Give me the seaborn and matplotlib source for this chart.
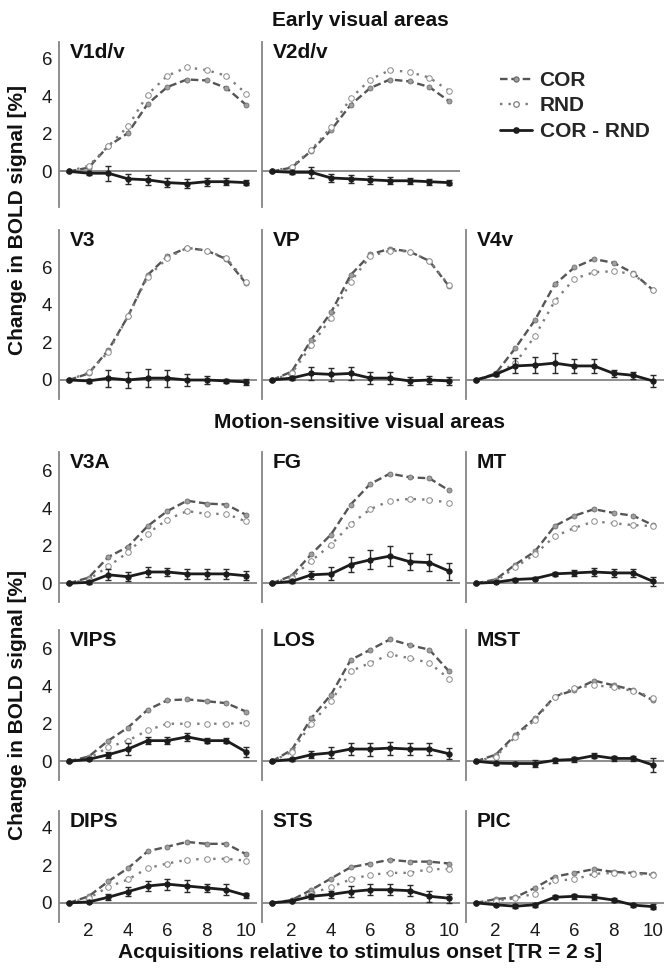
import numpy as np
import pandas as pd
import matplotlib
matplotlib.use("Agg")
import matplotlib.pyplot as plt
from matplotlib.lines import Line2D
import seaborn as sns

# ---------------- data ----------------
acq = [1, 2, 3, 4, 5, 6, 7, 8, 9, 10]
x_ticks = [2, 4, 6, 8, 10]

v1_cor = [0, 0.2, 1.35, 2.05, 3.6, 4.5, 4.9, 4.85, 4.45, 3.55]
v1_rnd = [0, 0.3, 1.35, 2.4, 4.1, 5.1, 5.55, 5.4, 5.1, 4.15]
v1_dif = [0, -0.1, -0.1, -0.4, -0.45, -0.6, -0.65, -0.55, -0.55, -0.6]
v1_err = [0.03, 0.08, 0.4, 0.27, 0.28, 0.24, 0.26, 0.22, 0.18, 0.12]

v2_cor = [0, 0.2, 1.1, 2.2, 3.55, 4.45, 4.9, 4.8, 4.5, 3.75]
v2_rnd = [0, 0.25, 1.15, 2.35, 3.9, 4.9, 5.4, 5.3, 5.0, 4.3]
v2_dif = [0, -0.05, -0.05, -0.35, -0.4, -0.45, -0.5, -0.5, -0.55, -0.6]
v2_err = [0.03, 0.08, 0.3, 0.2, 0.2, 0.2, 0.18, 0.15, 0.15, 0.15]

v3_cor = [0, 0.35, 1.6, 3.4, 5.6, 6.6, 7.05, 6.9, 6.45, 5.15]
v3_rnd = [0, 0.4, 1.5, 3.4, 5.5, 6.5, 7.05, 6.9, 6.5, 5.25]
v3_dif = [0, -0.05, 0.1, 0.0, 0.1, 0.1, 0.0, 0.0, -0.05, -0.1]
v3_err = [0.03, 0.1, 0.45, 0.42, 0.5, 0.45, 0.3, 0.2, 0.12, 0.15]

vp_cor = [0, 0.45, 2.15, 3.6, 5.6, 6.7, 7.0, 6.85, 6.35, 5.0]
vp_rnd = [0, 0.35, 1.85, 3.3, 5.25, 6.6, 6.9, 6.85, 6.35, 5.05]
vp_dif = [0, 0.1, 0.35, 0.3, 0.35, 0.1, 0.1, -0.05, 0.0, -0.05]
vp_err = [0.03, 0.1, 0.35, 0.35, 0.35, 0.3, 0.3, 0.2, 0.2, 0.2]

v4_cor = [0, 0.35, 1.7, 3.2, 5.1, 6.0, 6.45, 6.25, 5.7, 4.8]
v4_rnd = [0, 0.3, 0.9, 2.35, 4.2, 5.4, 5.75, 5.8, 5.65, 4.8]
v4_dif = [0, 0.3, 0.75, 0.8, 0.9, 0.75, 0.75, 0.35, 0.25, -0.05]
v4_err = [0.03, 0.1, 0.4, 0.45, 0.55, 0.38, 0.38, 0.2, 0.2, 0.3]

v3a_cor = [0, 0.3, 1.4, 1.95, 3.05, 3.85, 4.4, 4.25, 4.2, 3.65]
v3a_rnd = [0, 0.2, 0.9, 1.65, 2.65, 3.4, 3.85, 3.7, 3.7, 3.3]
v3a_dif = [0, 0.05, 0.45, 0.35, 0.6, 0.6, 0.5, 0.5, 0.5, 0.4]
v3a_err = [0.03, 0.08, 0.3, 0.25, 0.25, 0.2, 0.25, 0.25, 0.25, 0.25]

fg_cor = [0, 0.4, 1.55, 2.6, 4.2, 5.3, 5.85, 5.65, 5.6, 4.95]
fg_rnd = [0, 0.3, 1.2, 2.05, 3.15, 3.95, 4.4, 4.5, 4.45, 4.3]
fg_dif = [0, 0.1, 0.45, 0.5, 1.0, 1.25, 1.45, 1.15, 1.1, 0.65]
fg_err = [0.03, 0.1, 0.2, 0.35, 0.38, 0.5, 0.55, 0.45, 0.45, 0.45]

mt_cor = [0, 0.2, 1.0, 1.7, 3.05, 3.6, 3.95, 3.75, 3.6, 3.1]
mt_rnd = [0, 0.1, 0.85, 1.55, 2.5, 2.95, 3.3, 3.2, 3.1, 3.05]
mt_dif = [0, 0.05, 0.2, 0.25, 0.5, 0.55, 0.6, 0.55, 0.55, 0.1]
mt_err = [0.03, 0.05, 0.1, 0.1, 0.12, 0.15, 0.2, 0.2, 0.2, 0.25]

vips_cor = [0, 0.25, 1.1, 1.8, 2.75, 3.25, 3.3, 3.2, 3.1, 2.65]
vips_rnd = [0, 0.15, 0.75, 1.1, 1.65, 2.0, 2.0, 2.0, 2.0, 2.05]
vips_dif = [0, 0.1, 0.35, 0.65, 1.1, 1.1, 1.3, 1.1, 1.1, 0.5]
vips_err = [0.03, 0.05, 0.15, 0.3, 0.2, 0.2, 0.2, 0.12, 0.12, 0.25]

los_cor = [0, 0.6, 2.3, 3.55, 5.4, 5.95, 6.5, 6.2, 5.95, 4.8]
los_rnd = [0, 0.5, 2.0, 3.2, 4.8, 5.25, 5.7, 5.5, 5.25, 4.4]
los_dif = [0, 0.1, 0.35, 0.45, 0.65, 0.65, 0.7, 0.65, 0.65, 0.4]
los_err = [0.03, 0.1, 0.2, 0.3, 0.3, 0.35, 0.35, 0.3, 0.3, 0.3]

mst_cor = [0, 0.35, 1.4, 2.3, 3.45, 3.8, 4.3, 4.05, 3.8, 3.25]
mst_rnd = [0, 0.25, 1.3, 2.2, 3.45, 3.9, 4.05, 3.95, 3.75, 3.4]
mst_dif = [0, -0.1, -0.12, -0.12, 0.05, 0.1, 0.3, 0.15, 0.15, -0.2]
mst_err = [0.03, 0.08, 0.1, 0.2, 0.15, 0.15, 0.15, 0.15, 0.15, 0.35]

dips_cor = [0, 0.35, 1.15, 1.85, 2.75, 3.0, 3.25, 3.15, 3.15, 2.6]
dips_rnd = [0, 0.25, 0.85, 1.25, 1.85, 2.1, 2.3, 2.35, 2.35, 2.25]
dips_dif = [0, 0.05, 0.3, 0.6, 0.9, 1.0, 0.9, 0.8, 0.7, 0.4]
dips_err = [0.03, 0.05, 0.15, 0.25, 0.25, 0.3, 0.3, 0.2, 0.3, 0.15]

sts_cor = [0, 0.15, 0.7, 1.3, 1.9, 2.1, 2.3, 2.2, 2.2, 2.1]
sts_rnd = [0, 0.1, 0.5, 0.85, 1.25, 1.5, 1.6, 1.6, 1.8, 1.8]
sts_dif = [0, 0.1, 0.35, 0.45, 0.6, 0.7, 0.7, 0.65, 0.35, 0.25]
sts_err = [0.03, 0.05, 0.15, 0.2, 0.3, 0.3, 0.3, 0.3, 0.3, 0.25]

pic_cor = [0, 0.2, 0.3, 0.8, 1.4, 1.6, 1.8, 1.65, 1.6, 1.55]
pic_rnd = [0, 0.1, 0.25, 0.5, 1.2, 1.25, 1.55, 1.6, 1.55, 1.5]
pic_dif = [0, -0.1, -0.18, -0.1, 0.3, 0.35, 0.3, 0.15, -0.12, -0.2]
pic_err = [0.03, 0.05, 0.1, 0.1, 0.1, 0.15, 0.15, 0.12, 0.12, 0.15]

# ---------------- style ----------------
sns.set_style("white")
plt.rcParams["font.family"] = ["Liberation Sans", "DejaVu Sans"]

GRID = "#858585"
COR_C = "#555555"
RND_C = "#7c7c7c"
DIF_C = "#1c1c1c"
COR_LS = (0, (3.2, 1.6))
RND_LS = (0, (1.0, 2.6))

W, H = 668, 969
fig = plt.figure(figsize=(W / 100, H / 100), dpi=100)

col_left = [59, 262, 466]
col_w = 198
# row: (top px, ylim, yticks, ticklabels)
rows = [
    (42, (-1.9, 6.9), [0, 2, 4, 6], ["0", "2", "4", "6"]),
    (230, (-1.0, 8.0), [0, 2, 4, 6, 8], ["0", "2", "4", "6", ""]),
    (452, (-1.0, 7.0), [0, 2, 4, 6], ["0", "2", "4", "6"]),
    (630, (-1.0, 7.0), [0, 2, 4, 6], ["0", "2", "4", "6"]),
    (811, (-1.0, 4.9), [0, 2, 4], ["0", "2", "4"]),
]
PX_PER_UNIT = 18.75

panels = [
    (0, 0, "V1d/v", v1_cor, v1_rnd, v1_dif, v1_err),
    (0, 1, "V2d/v", v2_cor, v2_rnd, v2_dif, v2_err),
    (1, 0, "V3", v3_cor, v3_rnd, v3_dif, v3_err),
    (1, 1, "VP", vp_cor, vp_rnd, vp_dif, vp_err),
    (1, 2, "V4v", v4_cor, v4_rnd, v4_dif, v4_err),
    (2, 0, "V3A", v3a_cor, v3a_rnd, v3a_dif, v3a_err),
    (2, 1, "FG", fg_cor, fg_rnd, fg_dif, fg_err),
    (2, 2, "MT", mt_cor, mt_rnd, mt_dif, mt_err),
    (3, 0, "VIPS", vips_cor, vips_rnd, vips_dif, vips_err),
    (3, 1, "LOS", los_cor, los_rnd, los_dif, los_err),
    (3, 2, "MST", mst_cor, mst_rnd, mst_dif, mst_err),
    (4, 0, "DIPS", dips_cor, dips_rnd, dips_dif, dips_err),
    (4, 1, "STS", sts_cor, sts_rnd, sts_dif, sts_err),
    (4, 2, "PIC", pic_cor, pic_rnd, pic_dif, pic_err),
]

for r, c, name, cor, rnd, dif, err in panels:
    top, ylim, yt, ytl = rows[r]
    hpx = (ylim[1] - ylim[0]) * PX_PER_UNIT
    ax = fig.add_axes([col_left[c] / W, 1 - (top + hpx) / H, col_w / W, hpx / H])
    ax.axhline(0, color=GRID, lw=1.3, zorder=1)
    df = pd.DataFrame({"acq": acq, "cor": cor, "rnd": rnd, "dif": dif})
    sns.lineplot(data=df, x="acq", y="cor", ax=ax, color=COR_C, linestyle=COR_LS,
                 lw=1.7, marker="o", markersize=3.6, markerfacecolor="#a0a0a0",
                 markeredgecolor="#707070", markeredgewidth=0.6, zorder=3)
    sns.lineplot(data=df, x="acq", y="rnd", ax=ax, color=RND_C, linestyle=RND_LS,
                 lw=1.7, marker="o", markersize=4.0, markerfacecolor="white",
                 markeredgecolor="#8a8a8a", markeredgewidth=0.7, zorder=3)
    ax.errorbar(acq, dif, yerr=err, fmt="none", ecolor="#2a2a2a", elinewidth=1.0,
                capsize=2.5, capthick=1.0, zorder=4)
    sns.lineplot(data=df, x="acq", y="dif", ax=ax, color=DIF_C, lw=2.0,
                 marker="o", markersize=3.8, markerfacecolor=DIF_C,
                 markeredgecolor=DIF_C, zorder=5)
    ax.set_xlim(0.49, 10.56)
    ax.set_ylim(*ylim)
    ax.set_yticks(yt)
    ax.set_yticklabels(ytl)
    for s in ["top", "right", "bottom"]:
        ax.spines[s].set_visible(False)
    ax.spines["left"].set_color(GRID)
    ax.spines["left"].set_linewidth(1.3)
    ax.tick_params(axis="y", direction="inout", length=7, width=1.0, color=GRID,
                   labelsize=13.5, pad=1.5, labelcolor="#1a1a1a")
    ax.set_xticks(x_ticks)
    if r == 4:
        ax.tick_params(axis="x", length=0, labelsize=13.5, pad=1, labelcolor="#1a1a1a")
    else:
        ax.set_xticklabels([])
        ax.tick_params(axis="x", length=0)
    if c != 0:
        ax.set_yticklabels([])
    ax.set_xlabel("")
    ax.set_ylabel("")
    ax.text(0.055, 0.995, name, transform=ax.transAxes, ha="left", va="top",
            fontsize=15, fontweight="bold", color="#111111")

# legend
handles = [
    Line2D([], [], color=COR_C, linestyle=COR_LS, lw=1.7, marker="o", markersize=3.6,
           markerfacecolor="#a0a0a0", markeredgecolor="#707070"),
    Line2D([], [], color=RND_C, linestyle=RND_LS, lw=1.7, marker="o", markersize=4.0,
           markerfacecolor="white", markeredgecolor="#8a8a8a"),
    Line2D([], [], color=DIF_C, lw=2.0, marker="o", markersize=3.8,
           markerfacecolor=DIF_C, markeredgecolor=DIF_C),
]
fig.legend(handles, ["COR", "RND", "COR - RND"], loc="upper left",
           bbox_to_anchor=(500 / W, 1 - 71 / H), frameon=False, borderpad=0,
           borderaxespad=0, handlelength=1.55, handletextpad=0.35, labelspacing=0.31,
           prop={"size": 15, "weight": "bold"})

# titles and labels
fig.text(360 / W, 1 - 20 / H, "Early visual areas", ha="center", va="center",
         fontsize=15, fontweight="bold", color="#111111")
fig.text(360 / W, 1 - 423 / H, "Motion-sensitive visual areas", ha="center", va="center",
         fontsize=15, fontweight="bold", color="#111111")
fig.text(360 / W, 1 - 953 / H, "Acquisitions relative to stimulus onset [TR = 2 s]",
         ha="center", va="center", fontsize=15, fontweight="bold", color="#111111")
for yc in (220, 705):
    fig.text(18 / W, 1 - yc / H, "Change in BOLD signal [%]", rotation=90,
             ha="center", va="center", fontsize=15, fontweight="bold", color="#111111")

fig.savefig("out.png", dpi=100)
